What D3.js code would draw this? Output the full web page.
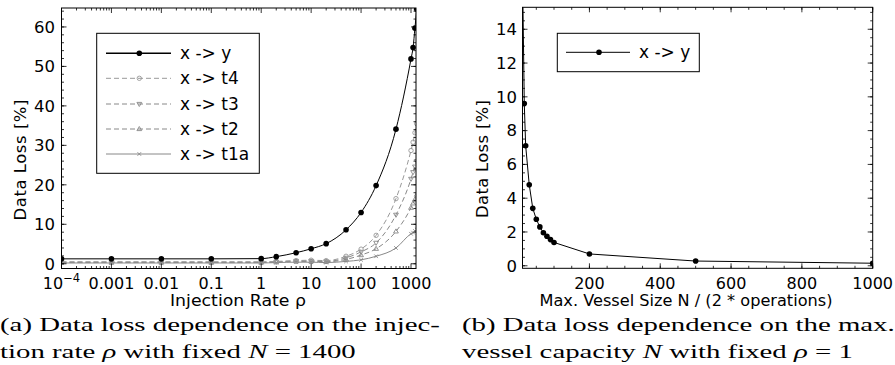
<!DOCTYPE html>
<html>
<head>
<meta charset="utf-8">
<script src="https://cdn.jsdelivr.net/npm/d3@7"></script>
<style>
  body { margin: 0; background: #fff; }
  svg { display: block; }
  text { font-family: "DejaVu Sans", sans-serif; fill: #000; }
  text.cap { font-family: "Liberation Serif", "DejaVu Serif", serif; }
</style>
</head>
<body>
<div id="chart"></div>
<script>
// (a) data loss vs injection rate
const rateX = [1e-4, 1e-3, 0.01, 0.1, 1, 2, 5, 10, 20, 50, 100, 200, 500, 1000, 1100, 1200, 1300];
const lossY   = [1.25, 1.25, 1.25, 1.25, 1.3, 1.8, 2.8, 3.8, 5.1, 8.6, 13.0, 19.8, 34.1, 51.9, 54.8, 59.7, 64.5];
const lossT4  = [0.5, 0.5, 0.5, 0.5, 0.5, 0.6, 0.8, 0.9, 0.8, 1.9, 3.7, 7.2, 16.5, 28.7, 30.8, 33.2, 35.5];
const lossT3  = [0.4, 0.4, 0.4, 0.4, 0.4, 0.5, 0.7, 0.7, 0.6, 1.5, 3.0, 5.3, 12.4, 21.5, 23.2, 24.6, 26.0];
const lossT2  = [0.3, 0.3, 0.3, 0.3, 0.3, 0.4, 0.6, 0.6, 0.5, 1.1, 2.2, 3.8, 8.2, 14.2, 15.3, 16.3, 17.5];
const lossT1a = [0.2, 0.2, 0.2, 0.2, 0.2, 0.3, 0.4, 0.4, 0.3, 0.6, 1.0, 1.9, 4.0, 7.6, 7.9, 8.3, 8.7];
const seriesA = ['x -> y', 'x -> t4', 'x -> t3', 'x -> t2', 'x -> t1a'];
const rateTicks = [1e-4, 1e-3, 0.01, 0.1, 1, 10, 100, 1000];
const rateTickLabels = ['10^-4', '0.001', '0.01', '0.1', '1', '10', '100', '1000'];

// (b) data loss vs max vessel size
const vesselX = [10, 16, 20, 30, 40, 50, 60, 70, 80, 90, 100, 200, 500, 1000];
const vesselY = [19, 9.6, 7.1, 4.8, 3.4, 2.75, 2.3, 1.95, 1.75, 1.55, 1.38, 0.7, 0.28, 0.15];

const svg = d3.select('#chart').append('svg')
  .attr('width', 895).attr('height', 365);

// inward ticks on all four sides
function frame(g, x, y, xMajor, xMinor, yMajor, yMinor) {
  const [xa, xb] = x.range(), [ya, yb] = y.range();
  const top = Math.min(ya, yb), bot = Math.max(ya, yb);
  const tk = g.append('g').attr('stroke', '#000').attr('stroke-width', 0.8);
  const vt = (vals, len) => vals.forEach(v => {
    const px = x(v);
    tk.append('line').attr('x1', px).attr('x2', px).attr('y1', bot).attr('y2', bot - len);
    tk.append('line').attr('x1', px).attr('x2', px).attr('y1', top).attr('y2', top + len);
  });
  const ht = (vals, len) => vals.forEach(v => {
    const py = y(v);
    tk.append('line').attr('y1', py).attr('y2', py).attr('x1', xa).attr('x2', xa + len);
    tk.append('line').attr('y1', py).attr('y2', py).attr('x1', xb).attr('x2', xb - len);
  });
  vt(xMajor, 5); vt(xMinor, 2.5); ht(yMajor, 5); ht(yMinor, 2.5);
  g.append('rect').attr('x', xa).attr('y', top).attr('width', xb - xa).attr('height', bot - top)
    .attr('fill', 'none').attr('stroke', '#000').attr('stroke-width', 1);
}

function marker(g, kind, cx, cy, color) {
  if (kind === 'dot') {
    g.append('circle').attr('cx', cx).attr('cy', cy).attr('r', 2.8).attr('fill', color);
  } else if (kind === 'circle') {
    g.append('circle').attr('cx', cx).attr('cy', cy).attr('r', 2.2).attr('fill', 'none').attr('stroke', color).attr('stroke-width', 0.9);
  } else if (kind === 'tri-down' || kind === 'tri-up') {
    const s = kind === 'tri-up' ? -1 : 1;
    g.append('path').attr('d', `M${cx - 2.4},${cy - 1.6 * s}L${cx + 2.4},${cy - 1.6 * s}L${cx},${cy + 2.5 * s}Z`)
      .attr('fill', 'none').attr('stroke', color).attr('stroke-width', 0.9);
  } else if (kind === 'x') {
    g.append('path').attr('d', `M${cx - 1.8},${cy - 1.8}L${cx + 1.8},${cy + 1.8}M${cx - 1.8},${cy + 1.8}L${cx + 1.8},${cy - 1.8}`)
      .attr('stroke', color).attr('stroke-width', 0.9);
  }
}

// ---------- panel (a) ----------
const xA = d3.scaleLog().domain([1e-4, 1259]).range([61.5, 416]);
const yA = d3.scaleLinear().domain([-1.2, 64.8]).range([268.5, 8]);
const gA = svg.append('g');

svg.append('clipPath').attr('id', 'clipA').append('rect')
  .attr('x', 61.5).attr('y', 8).attr('width', 416 - 61.5).attr('height', 260.5);

const styleA = [
  { vals: lossY,   color: '#000',    dash: null,  mk: 'dot' },
  { vals: lossT4,  color: '#999999', dash: '5,3', mk: 'circle' },
  { vals: lossT3,  color: '#888888', dash: '5,3', mk: 'tri-down' },
  { vals: lossT2,  color: '#888888', dash: '5,3', mk: 'tri-up' },
  { vals: lossT1a, color: '#888888', dash: null,  mk: 'x' }
];

const plotA = gA.append('g').attr('clip-path', 'url(#clipA)');
const lineA = d3.line().x(d => xA(d[0])).y(d => yA(d[1])).curve(d3.curveMonotoneX);
styleA.slice().reverse().forEach(s => {
  const pts = rateX.map((x, i) => [x, s.vals[i]]);
  plotA.append('path').attr('d', lineA(pts)).attr('fill', 'none')
    .attr('stroke', s.color).attr('stroke-width', 1)
    .attr('stroke-dasharray', s.dash);
  pts.forEach(p => marker(plotA, s.mk, xA(p[0]), yA(p[1]), s.color));
});

const minorLog = [];
for (let e = -4; e <= 3; e++) for (let m = 2; m <= 9; m++) {
  const v = m * Math.pow(10, e);
  if (v < 1259) minorLog.push(v);
}
frame(gA, xA, yA, rateTicks, minorLog, d3.range(0, 61, 10), d3.range(0, 65, 2));

// y tick labels
d3.range(0, 61, 10).forEach(v => {
  gA.append('text').attr('x', 55).attr('y', yA(v)).attr('dy', '0.35em')
    .attr('text-anchor', 'end').attr('font-size', 16.5).text(v);
});
// x tick labels
rateTicks.forEach((v, i) => {
  const lab = rateTickLabels[i];
  const t = gA.append('text').attr('x', xA(v)).attr('y', 288.5)
    .attr('text-anchor', 'middle').attr('font-size', 16);
  if (lab.includes('^')) {
    const [b, e] = lab.split('^');
    t.append('tspan').text(b);
    t.append('tspan').attr('dy', -6.5).attr('font-size', 11.5).text(e.replace('-', '\u2212'));
  } else {
    t.text(lab);
  }
});
gA.append('text').attr('x', 238).attr('y', 306).attr('text-anchor', 'middle')
  .attr('font-size', 15.5).attr('textLength', 136).attr('lengthAdjust', 'spacingAndGlyphs')
  .text('Injection Rate \u03c1');
gA.append('text').attr('transform', 'translate(26,160) rotate(-90)').attr('text-anchor', 'middle')
  .attr('font-size', 16.5).attr('textLength', 121).text('Data Loss [%]');

// legend (a)
const legA = gA.append('g');
legA.append('rect').attr('x', 96.7).attr('y', 33.3).attr('width', 162.6).attr('height', 140)
  .attr('fill', '#fff').attr('stroke', '#000').attr('stroke-width', 1);
const rowY = [53.3, 78.3, 104, 129, 154];
styleA.forEach((s, i) => {
  const ly = rowY[i];
  legA.append('line').attr('x1', 106).attr('x2', 171).attr('y1', ly).attr('y2', ly)
    .attr('stroke', s.color).attr('stroke-width', i === 0 ? 1.6 : 1).attr('stroke-dasharray', s.dash);
  marker(legA, s.mk, 139.3, ly, s.color);
  legA.append('text').attr('x', 180).attr('y', ly).attr('dy', '0.36em')
    .attr('font-size', 17).text(seriesA[i]);
});

// ---------- panel (b) ----------
const xB = d3.scaleLinear().domain([11, 1000]).range([522.5, 872.7]);
const yB = d3.scaleLinear().domain([-0.15, 15.3]).range([268.3, 7.3]);
const gB = svg.append('g');
svg.append('clipPath').attr('id', 'clipB').append('rect')
  .attr('x', 522.5).attr('y', 7.3).attr('width', 872.7 - 522.5).attr('height', 261);

const plotB = gB.append('g').attr('clip-path', 'url(#clipB)');
const ptsB = vesselX.map((x, i) => [x, vesselY[i]]);
plotB.append('path').attr('d', d3.line().x(d => xB(d[0])).y(d => yB(d[1]))(ptsB))
  .attr('fill', 'none').attr('stroke', '#000').attr('stroke-width', 1);
ptsB.forEach(p => marker(plotB, 'dot', xB(p[0]), yB(p[1]), '#000'));

frame(gB, xB, yB, d3.range(200, 1001, 200), d3.range(50, 1001, 50),
  d3.range(0, 15, 2), d3.range(0, 15.3, 0.5));

d3.range(0, 15, 2).forEach(v => {
  gB.append('text').attr('x', 517).attr('y', yB(v)).attr('dy', '0.35em')
    .attr('text-anchor', 'end').attr('font-size', 16.5).text(v);
});
d3.range(200, 1001, 200).forEach(v => {
  gB.append('text').attr('x', xB(v)).attr('y', 288.5).attr('text-anchor', 'middle')
    .attr('font-size', 16).text(v);
});
gB.append('text').attr('x', 686).attr('y', 306).attr('text-anchor', 'middle')
  .attr('font-size', 15).attr('textLength', 293).attr('lengthAdjust', 'spacingAndGlyphs')
  .text('Max. Vessel Size N / (2 * operations)');
gB.append('text').attr('transform', 'translate(488,159) rotate(-90)').attr('text-anchor', 'middle')
  .attr('font-size', 16.5).attr('textLength', 118).text('Data Loss [%]');

const legB = gB.append('g');
legB.append('rect').attr('x', 557.3).attr('y', 33.3).attr('width', 142).attr('height', 38.4)
  .attr('fill', '#fff').attr('stroke', '#000').attr('stroke-width', 1);
legB.append('line').attr('x1', 566).attr('x2', 630).attr('y1', 52.3).attr('y2', 52.3)
  .attr('stroke', '#000').attr('stroke-width', 1);
marker(legB, 'dot', 599, 52.3, '#000');
legB.append('text').attr('x', 639).attr('y', 52.3).attr('dy', '0.36em')
  .attr('font-size', 17).text('x -> y');

// ---------- captions ----------
// the caption face is wider than the serif fonts on hand, so stretch it sideways
const capG = svg.append('g');
const capLines = [];
function capLine(x, y, parts) {
  const t = capG.append('text').attr('class', 'cap').attr('font-size', 19.5)
    .attr('transform', `translate(${x},${y})`);
  parts.forEach(p => t.append('tspan').attr('font-style', p[1] ? 'italic' : null).text(p[0]));
  capLines.push({ t, x, y });
  return t;
}
const capA1 = capLine(0, 331, [['(a) Data loss dependence on the injec-']]);
capLine(0, 358, [['tion rate '], ['\u03c1', 1], [' with fixed '], ['N', 1], [' = 1400']]);
capLine(462, 331, [['(b) Data loss dependence on the max.']]);
capLine(462, 358, [['vessel capacity '], ['N', 1], [' with fixed '], ['\u03c1', 1], [' = 1']]);
const sx = 440 / capA1.node().getComputedTextLength();
capLines.forEach(c => c.t.attr('transform', `translate(${c.x},${c.y}) scale(${sx},1)`));
</script>
</body>
</html>
